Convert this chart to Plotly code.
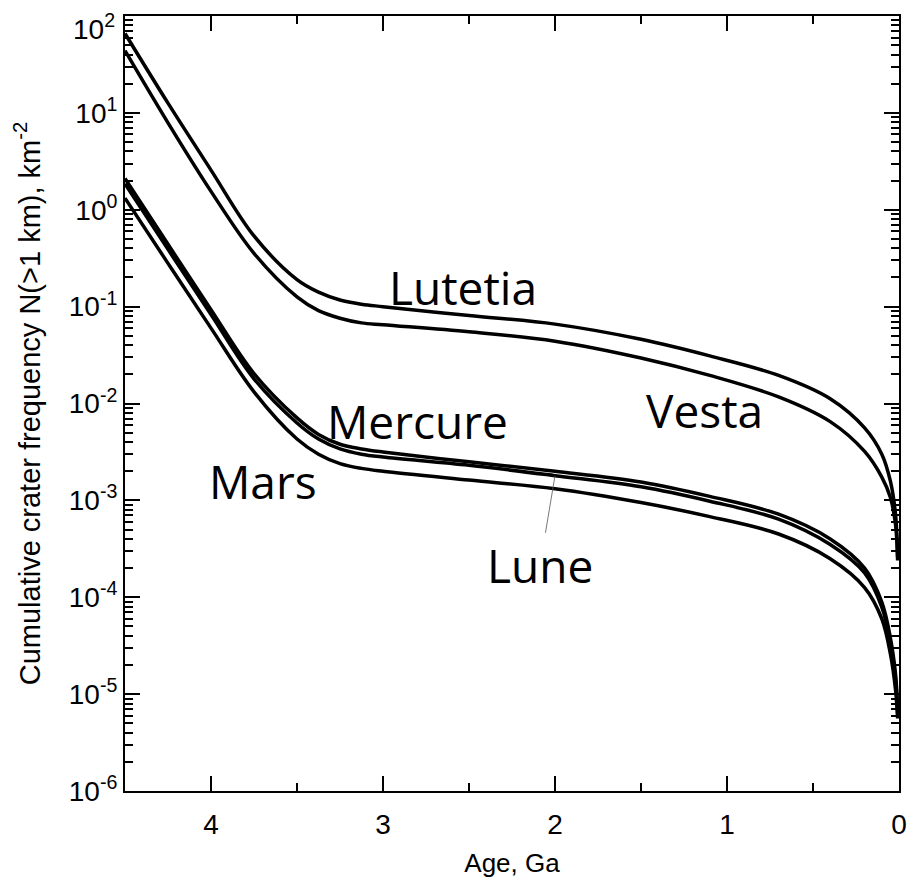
import numpy as np
import plotly.graph_objects as go

age = [4.5, 4.25, 4.0, 3.75, 3.5, 3.375, 3.25, 3.125, 3.0, 2.5, 2.0, 1.5, 1.1, 0.7, 0.4, 0.2,
       0.1, 0.05, 0.02, 0.008]

# cumulative crater frequency N(>1 km), km^-2
lutetia = [66, 12.6, 2.57, 0.537, 0.19, 0.141, 0.117, 0.106, 0.100, 0.081, 0.066, 0.046,
           0.031, 0.0195, 0.0112, 0.0056, 0.0030, 0.00158, 0.00071, 0.00026]
vesta = [44, 7.9, 1.55, 0.355, 0.126, 0.091, 0.076, 0.068, 0.065, 0.055, 0.044, 0.0295,
         0.0195, 0.0117, 0.0065, 0.0032, 0.00174, 0.00107, 0.00056, 0.00024]
mercure = [2.1, 0.44, 0.093, 0.0204, 0.0071, 0.0048, 0.0038, 0.0034, 0.00316, 0.0025, 0.0020,
           0.00155, 0.0011, 0.00072, 0.0004, 0.0002, 8.9e-5, 3.8e-5, 1.6e-5, 7.1e-6]
lune = [1.86, 0.39, 0.083, 0.018, 0.0063, 0.0043, 0.0034, 0.0030, 0.0028, 0.0023, 0.0018,
        0.00138, 0.00098, 0.00064, 0.00035, 0.000178, 7.9e-5, 3.4e-5, 1.4e-5, 6.3e-6]
mars = [1.32, 0.28, 0.060, 0.0132, 0.0043, 0.0030, 0.0024, 0.00214, 0.0020, 0.00162, 0.00132,
        0.00095, 0.00068, 0.00045, 0.00025, 0.000126, 6.0e-5, 2.6e-5, 1.1e-5, 5.6e-6]

# label text positions (age, log10 N)
labels = [("Lutetia", 2.535, -0.80), ("Vesta", 1.128, -2.07), ("Mercure", 2.797, -2.18),
          ("Mars", 3.70, -2.80)]

decades = list(range(-6, 3))
x_major = [0, 1, 2, 3, 4]
x_minor = [0.5, 1.5, 2.5, 3.5, 4.5]

fig = go.Figure()
for name, ys in [("Lutetia", lutetia), ("Vesta", vesta), ("Mercure", mercure),
                 ("Lune", lune), ("Mars", mars)]:
    fig.add_trace(go.Scatter(x=age, y=ys, mode="lines", name=name,
                             line=dict(color="black", width=3.5, shape="spline", smoothing=1.0)))

label_font = dict(family="Open Sans", size=46, color="black")
for text, ax_, ay_ in labels:
    fig.add_annotation(x=ax_, y=ay_, text=text, showarrow=False, font=label_font)

# Lune with thin leader line to its curve
fig.add_annotation(x=2.0, y=np.log10(lune[10]), text="Lune", font=label_font,
                   showarrow=True, arrowhead=0, arrowwidth=0.8, arrowcolor="#555",
                   axref="x", ayref="y", ax=2.087, ay=-3.67, standoff=0, startstandoff=0)

tick_font = dict(family="Liberation Sans", size=28, color="black")

# the top decade label sits a little below its tick, as in the original
y_ticktext = ["10<sup>%d</sup>" % d for d in decades]
fig.add_annotation(xref="paper", yref="paper", x=-0.0103, y=0.986, xanchor="right",
                   yanchor="middle", text=y_ticktext[-1], showarrow=False, font=tick_font)
y_ticktext[-1] = ""

fig.update_xaxes(range=[4.5, 0], tickvals=x_major, ticktext=[str(v) for v in x_major],
                 ticks="inside", ticklen=15, tickwidth=2, tickcolor="black",
                 minor=dict(tickvals=x_minor, ticks="inside", ticklen=8, tickwidth=2,
                            tickcolor="black"),
                 showline=True, linewidth=2, linecolor="black", mirror="ticks",
                 showgrid=False, zeroline=False, tickfont=tick_font, automargin=False,
                 ticklabelstandoff=7, ticklabeloverflow="allow",
                 title=dict(text="Age, Ga", standoff=15,
                            font=dict(family="Liberation Sans", size=26, color="black")))

minor_y = [m * 10.0 ** d for d in decades[:-1] for m in range(2, 10)]
fig.update_yaxes(type="log", range=[-6, 2.0005], tickvals=[10.0 ** d for d in decades],
                 ticktext=y_ticktext,
                 ticks="inside", ticklen=15, tickwidth=2, tickcolor="black",
                 minor=dict(tickvals=minor_y, ticks="inside", ticklen=8, tickwidth=2,
                            tickcolor="black"),
                 showline=True, linewidth=2, linecolor="black", mirror="ticks",
                 showgrid=False, zeroline=False, tickfont=tick_font, automargin=False,
                 ticklabeloverflow="allow",
                 title=dict(text="Cumulative crater frequency N(>1 km), km<sup>-2</sup>",
                            standoff=20,
                            font=dict(family="Liberation Sans", size=29, color="black")))

fig.update_layout(width=908, height=880, showlegend=False,
                  plot_bgcolor="white", paper_bgcolor="white",
                  margin=dict(l=125, r=9, t=16, b=89))

# drop the default page margin so the figure sits at the window's corner
fig.write_html("out.html", config={"displayModeBar": False},
               post_script="document.body.style.margin='0';")
